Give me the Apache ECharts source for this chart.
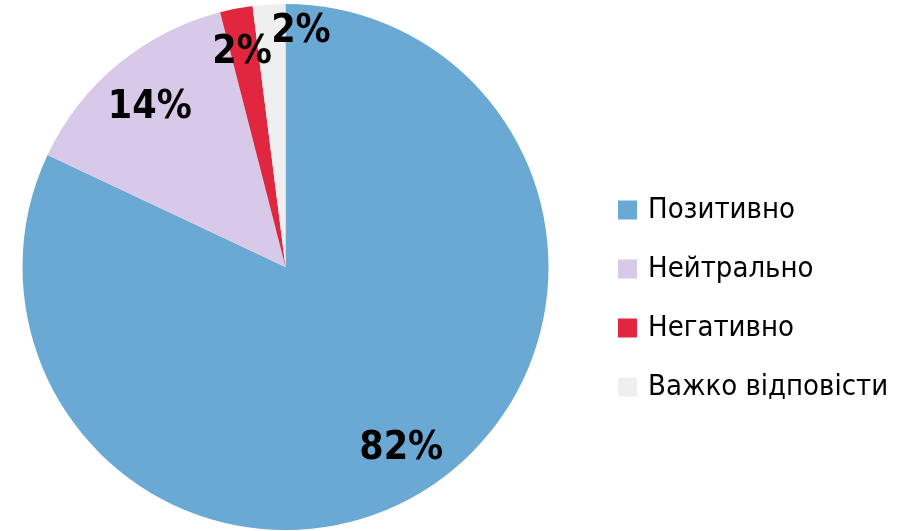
<!DOCTYPE html>
<html>
<head>
<meta charset="utf-8">
<script src="https://cdn.jsdelivr.net/npm/echarts@6/dist/echarts.min.js"></script>
<style>
  html, body { margin: 0; padding: 0; background: #fff; }
  #chart { width: 915px; height: 531px; }
</style>
</head>
<body>
<div id="chart"></div>
<script>
// answers (categories) and their shares, %
var categories = ["Позитивно", "Нейтрально", "Негативно", "Важко відповісти"];
var shares = [82, 14, 2, 2];
var colors = ["#69a9d3", "#d9c9e8", "#e0273f", "#efefef"];

var narrow = "'DejaVu Sans Condensed', 'Liberation Sans', sans-serif";

// small nudges so labels sit where the original placed them
var labelNudge = [[0, 0], [2, 7], [-3, -2], [29, -20]];

var chart = echarts.init(document.getElementById("chart"));

var pieData = categories.map(function (name, i) {
  return { name: name, value: shares[i], itemStyle: { color: colors[i] } };
});

// second ring only carries the labels, so they sit ~0.8 of the radius out
var labelData = categories.map(function (name, i) {
  return { name: name, value: shares[i], label: { offset: labelNudge[i] } };
});

chart.setOption({
  animation: false,
  legend: {
    orient: "vertical",
    left: 613,
    top: 186,
    itemWidth: 19,
    itemHeight: 19,
    itemGap: 21,
    icon: "rect",
    data: categories,
    textStyle: {
      fontFamily: narrow,
      fontSize: 29,
      lineHeight: 38,
      color: "#000",
      padding: [0, 0, 0, 6]
    }
  },
  series: [
    {
      type: "pie",
      center: [285.5, 267],
      radius: [0, 263],
      startAngle: 90,
      clockwise: true,
      silent: true,
      label: { show: false },
      labelLine: { show: false },
      data: pieData
    },
    {
      type: "pie",
      center: [285.5, 267],
      radius: [163, 263],
      startAngle: 90,
      clockwise: true,
      silent: true,
      avoidLabelOverlap: false,
      labelLayout: { hideOverlap: false },
      itemStyle: { color: "rgba(0,0,0,0)" },
      label: {
        show: true,
        position: "inside",
        formatter: "{c}%",
        color: "#000",
        fontFamily: narrow,
        fontWeight: "bold",
        fontSize: 39
      },
      labelLine: { show: false },
      data: labelData
    }
  ]
});
</script>
</body>
</html>
